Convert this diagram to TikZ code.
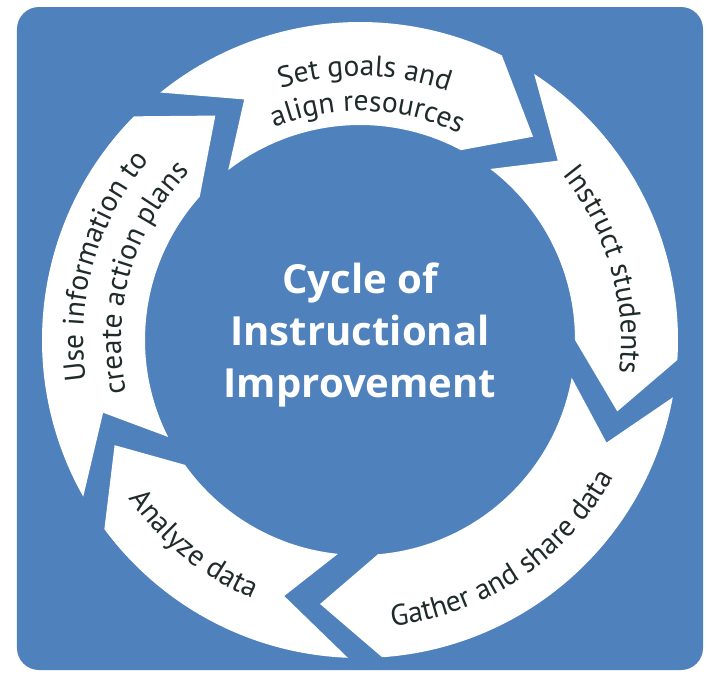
\documentclass[tikz,border=0pt]{standalone}
\usepackage{fontspec}
\setmainfont{PT Sans}
\newfontfamily\titlefont{Open Sans}
\usepackage{tikz}
\usetikzlibrary{decorations.text}

\definecolor{cycleblue}{HTML}{4F81BD}
\definecolor{labelgray}{HTML}{1F2B2B}
\newcommand{\labelfont}{\fontsize{21}{25}\selectfont\color{labelgray}}
% one white arrow of the ring: tail outer/inner, notch, head outer/inner, tip
\newcommand{\cyclearrow}[6]{%
  \fill[white] (#1:318) arc[start angle=#1, end angle=#4, radius=318]
    -- (#6:267) -- (#5:215) arc[start angle=#5, end angle=#2, radius=215]
    -- (#3:267) -- cycle;}

\begin{document}
\begin{tikzpicture}[x=0.025cm, y=0.025cm,
    steplabel/.style={decorate, decoration={text along path, text align=center}},
    title/.style={text=white, align=center, inner sep=0pt,
      font=\titlefont\fontsize{28.5}{37}\selectfont\bfseries}]
    \useasboundingbox (-360,-333) rectangle (347,340);
    \fill[cycleblue, rounded corners=0.55cm] (-343,-330) rectangle (343,333);

    % Ring of arrows
    \cyclearrow{128.9}{127.8}{115.7}{63.5}{62}{49.6}
    \cyclearrow{56.8}{52.7}{42.2}{-3.6}{0}{-15.5}
    \cyclearrow{-10.4}{-10.1}{-22.6}{-86}{-85.2}{-98.6}
    \cyclearrow{267.8}{264.1}{253.5}{216.5}{215.5}{203.2}
    \cyclearrow{209.5}{206.8}{195.8}{135.3}{138.2}{122.8}

    % Set goals
    \path[steplabel, decoration={text={|\labelfont|Set goals and}}]
        (134:264) arc[start angle=134, end angle=44, radius=264];
    \path[steplabel, decoration={text={|\labelfont|align resources}}]
        (138:229) arc[start angle=138, end angle=38, radius=229];

    % Instruct students
    \path[steplabel, decoration={text={|\labelfont|Instruct students}}]
        (61:261) arc[start angle=61, end angle=-29, radius=261];

    % Gather and share data
    \path[steplabel, decoration={text={|\labelfont|Gather and share data}}]
        (-106:288) arc[start angle=-106, end angle=-6, radius=288];

    % Analyze data
    \path[steplabel, decoration={text={|\labelfont|Analyze data}}]
        (191:280) arc[start angle=191, end angle=271, radius=280];

    % Use information
    \path[steplabel, decoration={text={|\labelfont|Use information to}}]
        (214:277) arc[start angle=214, end angle=114, radius=277];
    \path[steplabel, decoration={text={|\labelfont|create action plans}}]
        (219:239) arc[start angle=219, end angle=109, radius=239];

    % Centre
    \node[title] (title) at (0,5) {Cycle of\\Instructional\\Improvement};
\end{tikzpicture}
\end{document}
